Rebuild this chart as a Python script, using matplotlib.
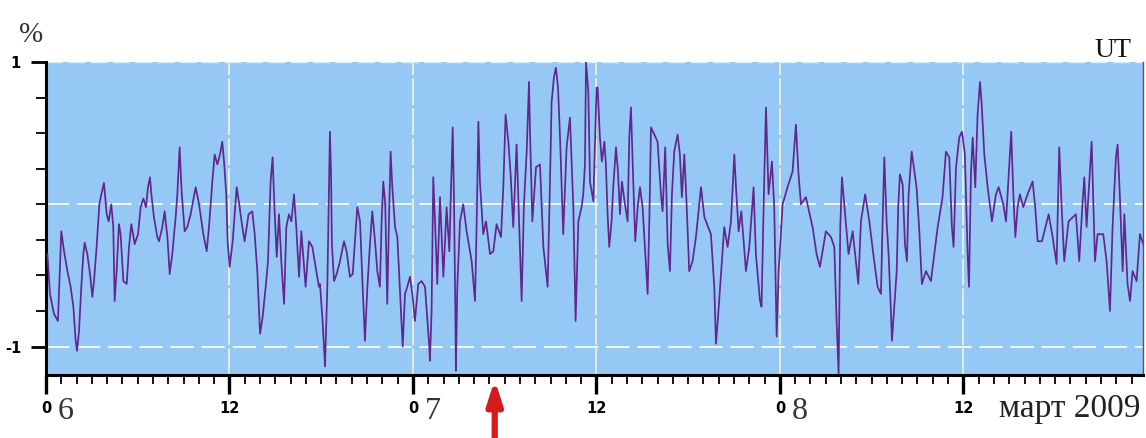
import numpy as np
import matplotlib
matplotlib.use("Agg")
import matplotlib.pyplot as plt
from matplotlib.ticker import MultipleLocator, FixedLocator
import matplotlib.transforms as mtransforms

# ---- data: time in hours from 6 March 2009 00 UT, value in % ----
hours_a = [0.09, 0.26, 0.52, 0.78, 1.00, 1.18, 1.40, 1.61, 1.79, 1.94, 2.03, 2.16, 2.31, 2.44, 2.53,
           2.70, 2.88, 3.03, 3.14, 3.31, 3.49, 3.62, 3.79, 3.97, 4.10, 4.27, 4.40, 4.49, 4.62, 4.77,
           4.88, 5.06, 5.28, 5.43, 5.58, 5.80, 6.02, 6.19, 6.37, 6.54, 6.67, 6.80, 6.89, 7.06, 7.28,
           7.39, 7.61, 7.76, 7.94, 8.09, 8.26, 8.48, 8.59, 8.74, 8.87, 9.07, 9.24, 9.46, 9.79, 10.01,
           10.29, 10.51, 10.66, 10.88, 11.03, 11.21, 11.38, 11.53, 11.66, 11.79, 11.88, 12.01, 12.21,
           12.47, 12.64, 12.84, 12.99, 13.25, 13.49, 13.65, 13.82, 14.00, 14.17, 14.37, 14.52, 14.69,
           14.82, 14.96, 15.09, 15.24, 15.39, 15.57, 15.72, 15.89, 16.05, 16.22, 16.37, 16.55, 16.70,
           16.98, 17.20, 17.42, 17.85]
pct_a = [-0.35, -0.63, -0.77, -0.82, -0.19, -0.33, -0.47, -0.58, -0.72, -0.96, -1.03, -0.89, -0.58,
         -0.35, -0.27, -0.35, -0.49, -0.65, -0.54, -0.30, 0.00, 0.07, 0.15, -0.07, -0.12, 0.00, -0.16,
         -0.68, -0.47, -0.14, -0.21, -0.54, -0.56, -0.30, -0.14, -0.28, -0.21, -0.02, 0.04, -0.02,
         0.12, 0.19, 0.07, -0.09, -0.23, -0.26, -0.16, -0.05, -0.23, -0.49, -0.35, -0.09, 0.07, 0.40,
         0.09, -0.19, -0.16, -0.07, 0.12, 0.00, -0.21, -0.33, -0.16, 0.16, 0.35, 0.28, 0.35, 0.44,
         0.28, 0.07, -0.26, -0.44, -0.26, 0.12, 0.00, -0.16, -0.26, -0.07, -0.05, -0.21, -0.47, -0.91,
         -0.79, -0.58, -0.40, 0.16, 0.33, -0.07, -0.37, -0.07, -0.40, -0.70, -0.16, -0.07, -0.12, 0.07,
         -0.16, -0.51, -0.19, -0.58, -0.26, -0.30, -0.58]

hours_b = [17.92, 18.09, 18.25, 18.40, 18.49, 18.57, 18.64, 18.70, 18.84, 19.01, 19.23, 19.49, 19.66,
           19.88, 20.06, 20.21, 20.36, 20.54, 20.71, 20.86, 21.02, 21.19, 21.34, 21.52, 21.67, 21.84,
           21.95, 22.06, 22.19, 22.32, 22.43, 22.54, 22.65, 22.83, 22.98, 23.15, 23.33, 23.48, 23.63,
           23.81, 23.98, 24.13, 24.35, 24.57, 24.79, 25.07, 25.11, 25.22, 25.33, 25.46, 25.59, 25.77,
           25.99, 26.20, 26.38, 26.60, 26.68, 26.77, 26.81, 26.90, 27.08, 27.29, 27.51, 27.84, 28.06,
           28.17, 28.28, 28.38, 28.60, 28.78, 29.04, 29.26, 29.47, 29.76, 29.91, 30.06, 30.24, 30.39,
           30.56, 30.78, 31.04, 31.11, 31.26, 31.44, 31.59, 31.65, 31.81, 32.05, 32.31, 32.53, 32.81,
           32.96, 33.07, 33.22, 33.35, 33.49, 33.62, 33.83, 34.05, 34.27, 34.49, 34.64, 34.82, 35.03,
           35.14, 35.25, 35.32, 35.47, 35.58, 35.80]
pct_b = [-0.56, -0.82, -1.14, -0.58, 0.00, 0.51, 0.23, -0.28, -0.54, -0.49, -0.40, -0.26, -0.33,
         -0.51, -0.49, -0.26, -0.02, -0.12, -0.58, -0.96, -0.58, -0.28, -0.05, -0.26, -0.47, -0.58,
         -0.12, 0.16, 0.00, -0.70, -0.12, 0.37, 0.12, -0.16, -0.23, -0.61, -1.00, -0.63, -0.58, -0.51,
         -0.65, -0.82, -0.56, -0.54, -0.58, -1.00, -1.10, -0.75, 0.19, -0.16, -0.56, 0.05, -0.51, -0.02,
         -0.33, 0.54, 0.07, -0.72, -1.17, -0.58, -0.12, 0.00, -0.19, -0.40, -0.68, -0.12, 0.58, 0.16,
         -0.21, -0.12, -0.35, -0.33, -0.14, -0.23, 0.12, 0.63, 0.44, 0.21, -0.16, 0.42, -0.44, -0.68,
         0.00, 0.37, 0.86, 0.54, -0.12, 0.26, 0.28, -0.30, -0.58, 0.14, 0.72, 0.89, 0.96, 0.82, 0.47,
         -0.21, 0.40, 0.61, -0.02, -0.82, -0.12, -0.02, 0.07, 0.28, 1.00, 0.79, 0.16, 0.02]

hours_c = [36.01, 36.08, 36.23, 36.36, 36.52, 36.62, 36.73, 36.84, 36.99, 37.10, 37.28, 37.41, 37.54,
           37.67, 37.84, 38.04, 38.15, 38.26, 38.41, 38.54, 38.70, 38.85, 39.02, 39.20, 39.35, 39.46,
           39.57, 39.79, 40.00, 40.22, 40.33, 40.50, 40.66, 40.81, 40.94, 41.09, 41.31, 41.46, 41.59,
           41.75, 41.90, 42.07, 42.29, 42.51, 42.84, 43.06, 43.49, 43.71, 43.82, 43.97, 44.15, 44.36,
           44.58, 44.80, 45.02, 45.13, 45.30, 45.48, 45.78, 46.00, 46.28, 46.43, 46.70, 46.80, 46.94,
           47.09, 47.26, 47.48, 47.63, 47.79, 47.92, 48.18, 48.50, 48.83, 49.05, 49.22, 49.38, 49.70,
           50.14, 50.40, 50.62, 51.01, 51.34, 51.56, 51.71, 51.84, 51.95, 52.06, 52.21, 52.49, 52.76,
           53.13, 53.30, 53.58]
pct_c = [0.82, 0.82, 0.47, 0.30, 0.44, 0.28, -0.07, -0.30, -0.12, 0.12, 0.40, 0.23, -0.07, 0.16,
         0.02, -0.12, 0.47, 0.68, 0.16, -0.26, -0.02, 0.12, -0.02, -0.35, -0.63, -0.12, 0.54, 0.49,
         0.44, 0.07, -0.05, 0.40, -0.28, -0.47, 0.07, 0.37, 0.49, 0.35, 0.05, 0.35, 0.00, -0.47, -0.40,
         -0.23, 0.12, -0.09, -0.21, -0.58, -0.98, -0.77, -0.49, -0.16, -0.30, -0.12, 0.35, 0.12, -0.19,
         -0.05, -0.47, -0.30, 0.12, -0.35, -0.68, -0.72, 0.00, 0.68, 0.07, 0.30, -0.02, -0.93, -0.47,
         0.00, 0.12, 0.23, 0.56, 0.21, 0.00, 0.05, -0.16, -0.35, -0.44, -0.19, -0.23, -0.30, -0.82,
         -1.19, -0.16, 0.19, 0.00, -0.35, -0.19, -0.56, -0.12, 0.07]

hours_d = [53.85, 54.11, 54.39, 54.61, 54.72, 54.83, 54.98, 55.11, 55.27, 55.33, 55.48, 55.64, 55.74,
           55.85, 56.03, 56.18, 56.31, 56.42, 56.62, 56.94, 57.12, 57.29, 57.55, 57.88, 58.10, 58.32,
           58.64, 58.86, 59.08, 59.25, 59.36, 59.52, 59.73, 59.91, 60.10, 60.28, 60.37, 60.50, 60.61,
           60.78, 60.93, 61.09, 61.19, 61.37, 61.59, 61.87, 62.13, 62.31, 62.61, 62.79, 62.96, 63.13,
           63.27, 63.40, 63.55, 63.70, 63.92, 64.20, 64.53, 64.70, 64.86, 65.14, 65.58, 65.84, 66.10,
           66.27, 66.43, 66.60, 66.88, 67.36, 67.58, 67.80, 67.91, 68.06, 68.39, 68.61, 68.78, 69.15,
           69.37, 69.59, 69.76, 69.98, 70.09, 70.24, 70.42, 70.53, 70.74, 70.90, 71.07, 71.33, 71.55,
           71.83]
pct_d = [-0.12, -0.35, -0.58, -0.63, -0.12, 0.33, -0.12, -0.35, -0.77, -0.96, -0.72, -0.47, -0.02,
         0.21, 0.14, -0.28, -0.40, 0.07, 0.37, 0.12, -0.19, -0.56, -0.47, -0.54, -0.35, -0.16, 0.05,
         0.37, 0.33, -0.16, -0.30, 0.26, 0.47, 0.51, 0.35, -0.35, -0.58, 0.23, 0.47, 0.12, 0.63, 0.86,
         0.72, 0.35, 0.12, -0.12, 0.07, 0.12, 0.00, -0.12, 0.19, 0.51, 0.07, -0.23, -0.02, 0.07, -0.02,
         0.07, 0.16, -0.02, -0.26, -0.26, -0.07, -0.23, -0.42, 0.40, -0.02, -0.40, -0.12, -0.07, -0.40,
         0.02, 0.19, -0.16, 0.44, -0.40, -0.21, -0.21, -0.40, -0.75, -0.16, 0.33, 0.42, 0.05, -0.47,
         -0.07, -0.56, -0.68, -0.47, -0.54, -0.21, -0.30]

hour_ticks = [0, 12, 24, 36, 48, 60]
hour_labels = ["0", "12", "0", "12", "0", "12"]
day_labels = ["6", "7", "8"]
day_starts = [0, 24, 48]
month_label = "март 2009"
event_hour = 29.35

hours = np.array(hours_a + hours_b + hours_c + hours_d)
pct = np.array(pct_a + pct_b + pct_c + pct_d)

# ---- figure ----
W, H = 1146, 438
fig = plt.figure(figsize=(W / 100, H / 100), dpi=100)
ax = fig.add_axes([46 / W, 1 - 375 / H, (1143 - 46) / W, (375 - 62) / H])
ax.set_facecolor("#96c8f6")
ax.set_xlim(0, 71.75)
ax.set_ylim(-1.2, 1.0)

# grid
for h in hour_ticks[1:]:
    ax.axvline(h, color="#eef6d8", lw=1.2, ls=(0, (16, 2)), zorder=1)
for yv in [0.0, -1.0]:
    ax.axhline(yv, color="#f2f8ea", lw=1.4, ls=(0, (12, 4)), zorder=1)
ax.axhline(1.0, color="#d8ecf6", lw=1.0, ls=(0, (12, 4)), zorder=1)

ax.plot(hours, pct, color="#62268f", lw=1.25, zorder=3)

# spines
ax.spines["top"].set_visible(False)
ax.spines["right"].set_color("#555555")
ax.spines["right"].set_linewidth(1.0)
ax.spines["left"].set_linewidth(2.2)
ax.spines["bottom"].set_linewidth(2.2)

# ticks
ax.yaxis.set_major_locator(FixedLocator([-1, 1]))
ax.set_yticklabels(["-1", "1"])
ax.yaxis.set_minor_locator(MultipleLocator(0.25))
ax.tick_params(axis="y", which="major", length=11, width=2, pad=7,
               labelsize=10.5)
ax.tick_params(axis="y", which="minor", length=7, width=1.3)
for lab in ax.get_yticklabels():
    lab.set_fontweight("bold")

ax.xaxis.set_major_locator(FixedLocator(hour_ticks))
ax.set_xticklabels(hour_labels)
ax.xaxis.set_minor_locator(MultipleLocator(1))
ax.tick_params(axis="x", which="major", length=14, width=2.4, pad=5,
               labelsize=10.5)
ax.tick_params(axis="x", which="minor", length=6.5, width=1.3)
for lab in ax.get_xticklabels():
    lab.set_fontweight("bold")

serif = ["Liberation Serif", "DejaVu Serif"]
trans = mtransforms.blended_transform_factory(ax.transData, ax.transAxes)
for d, h0 in zip(day_labels, day_starts):
    ax.text(h0 + 0.75, -0.14, d, transform=trans, ha="left", va="baseline",
            fontsize=23, family=serif, color="#333333")
ax.text(71.55, -0.135, month_label, transform=trans, ha="right", va="baseline",
        fontsize=24, family=serif, color="#222222")

fig.text(19 / W, 1 - 42 / H, "%", fontsize=21, family=serif, color="#333333")
fig.text(1131 / W, 1 - 57 / H, "UT", ha="right", fontsize=20, family=serif, color="#111111")

# red arrow
ax.annotate("", xy=(event_hour, -0.015), xycoords=trans,
            xytext=(event_hour, -0.21), textcoords=trans,
            arrowprops=dict(arrowstyle="-|>,head_length=1.4,head_width=0.45",
                            color="#d41c1c", lw=4.5, shrinkA=0, shrinkB=0),
            annotation_clip=False)

fig.savefig("out.png", dpi=100)
